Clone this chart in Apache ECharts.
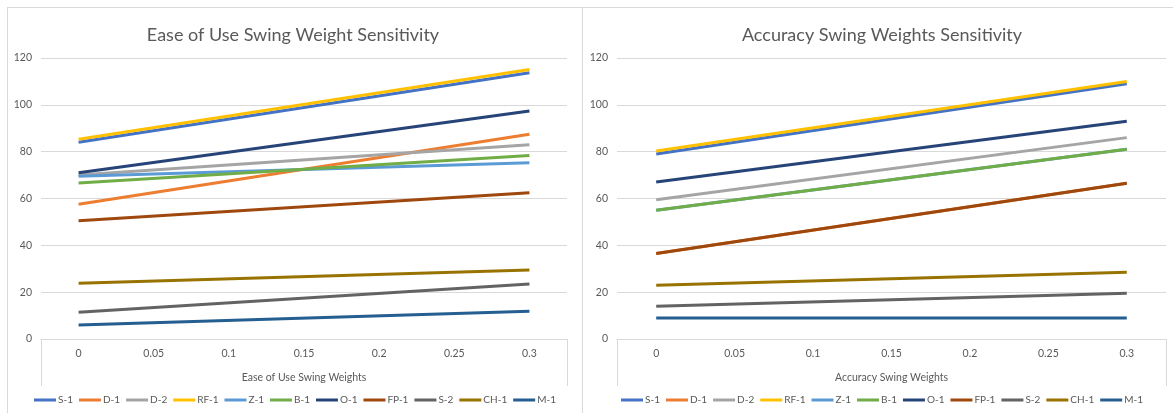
<!DOCTYPE html>
<html>
<head>
<meta charset="utf-8">
<script src="https://cdn.jsdelivr.net/npm/echarts@6/dist/echarts.min.js"></script>
<style>
  html, body { margin: 0; padding: 0; background: #fff; }
  body { width: 1173px; height: 413px; position: relative; overflow: hidden; }
  .panel { position: absolute; top: 7px; height: 406px; border: 1px solid #d9d9d9; border-bottom: none; box-sizing: border-box; background: #fff; }
  #left { left: 7px; width: 576px; }
  #right { left: 582px; width: 600px; }
</style>
</head>
<body>
<div id="left" class="panel"></div>
<div id="right" class="panel"></div>
<script>
// Swing weight steps on the category axis
const weights = ['0', '0.05', '0.1', '0.15', '0.2', '0.25', '0.3'];
const seriesNames = ['S-1', 'D-1', 'D-2', 'RF-1', 'Z-1', 'B-1', 'O-1', 'FP-1', 'S-2', 'CH-1', 'M-1'];
const seriesColors = ['#4472C4', '#ED7D31', '#A5A5A5', '#FFC000', '#5B9BD5', '#70AD47',
                      '#264478', '#9E480E', '#636363', '#997300', '#255E91'];
const yTicks = [0, 20, 40, 60, 80, 100, 120];

// Score at weight 0 and at weight 0.3 for each alternative
const easeStart = [84.0, 57.5, 70.0, 85.3, 69.5, 66.6, 71.0, 50.5, 11.4, 23.8, 6.0];
const easeEnd   = [113.7, 87.4, 83.0, 115.1, 75.3, 78.4, 97.4, 62.5, 23.5, 29.5, 11.8];
const accStart  = [79.0, 36.5, 59.5, 80.3, 55.0, 55.0, 67.0, 36.5, 14.0, 23.0, 9.0];
const accEnd    = [109.0, 66.5, 86.0, 110.0, 81.0, 81.0, 93.0, 66.5, 19.5, 28.5, 9.0];

const FONT = 'Lato, "Open Sans", sans-serif';
const TEXT = '#595959';
const GRID = '#d9d9d9';

function build(el, title, axisName, starts, ends, gridLeft, gridWidth, titleX) {
  const chart = echarts.init(el, null, { renderer: 'canvas' });
  const series = seriesNames.map((name, i) => {
    // only the end points are known; the straight line joins them
    const data = weights.map((w, k) => k === 0 ? starts[i] : (k === weights.length - 1 ? ends[i] : null));
    return {
      name: name,
      type: 'line',
      data: data,
      connectNulls: true,
      showSymbol: false,
      symbol: 'none',
      lineStyle: { width: 3, color: seriesColors[i] },
      itemStyle: { color: seriesColors[i] },
      emphasis: { disabled: true },
      animation: false
    };
  });
  chart.setOption({
    animation: false,
    textStyle: { fontFamily: FONT },
    title: {
      text: title,
      left: titleX,
      top: 13,
      textAlign: 'center',
      textStyle: { fontFamily: FONT, fontSize: 18, fontWeight: 'normal', color: TEXT }
    },
    legend: {
      data: seriesNames,
      left: 'center',
      top: 382,
      icon: 'rect',
      itemWidth: 22,
      itemHeight: 3,
      itemGap: 6,
      textStyle: { fontFamily: FONT, fontSize: 10, color: TEXT, padding: [0, 0, 0, -3] }
    },
    grid: { left: gridLeft, top: 50, width: gridWidth, height: 281, containLabel: false },
    xAxis: {
      type: 'category',
      data: weights,
      boundaryGap: true,
      name: axisName,
      nameLocation: 'middle',
      nameGap: 33,
      nameTextStyle: { fontFamily: FONT, fontSize: 10.5, color: TEXT },
      axisLine: { show: true, lineStyle: { color: GRID, width: 1 } },
      axisTick: {
        show: true,
        length: 47,
        interval: function (index) { return index === 0; },
        lineStyle: { color: GRID, width: 1 }
      },
      axisLabel: { fontFamily: FONT, fontSize: 10.5, color: TEXT, margin: 9, interval: 0 },
      splitLine: { show: false }
    },
    yAxis: {
      type: 'value',
      min: yTicks[0],
      max: yTicks[yTicks.length - 1],
      interval: yTicks[1] - yTicks[0],
      axisLine: { show: false },
      axisTick: { show: false },
      axisLabel: { fontFamily: FONT, fontSize: 10.5, color: TEXT, margin: 9 },
      splitLine: { lineStyle: { color: GRID, width: 1 } }
    },
    series: series
  });
  return chart;
}

build(document.getElementById('left'), 'Ease of Use Swing Weight Sensitivity', 'Ease of Use Swing Weights',
      easeStart, easeEnd, 33, 526, 280);
build(document.getElementById('right'), 'Accuracy Swing Weights Sensitivity', 'Accuracy Swing Weights',
      accStart, accEnd, 34, 549, 294);
</script>
</body>
</html>
